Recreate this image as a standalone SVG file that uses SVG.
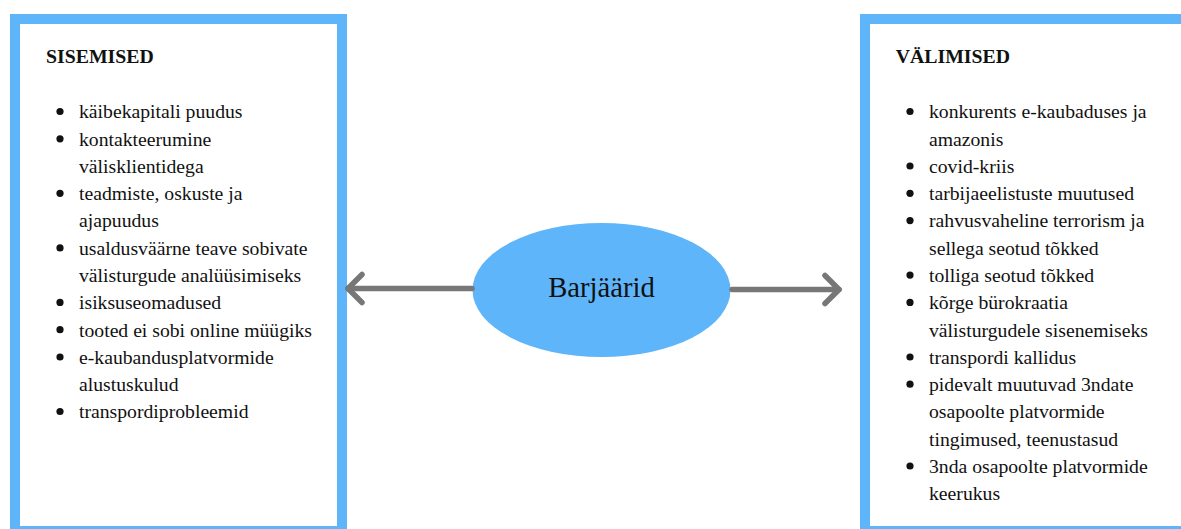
<svg xmlns="http://www.w3.org/2000/svg" width="1181" height="529" viewBox="0 0 1181 529">
<style>
.box{fill:#ffffff;stroke:#5fb5f9;stroke-width:10}
.t{font-family:"Liberation Serif","Times New Roman",serif;font-size:19.7px;fill:#111}
.h{font-family:"Liberation Serif","Times New Roman",serif;font-size:19.8px;font-weight:bold;fill:#111}
.b{fill:#111}
.conn{stroke:#777777;stroke-width:5.5;stroke-linecap:round;fill:none}
</style>
<defs>
<marker id="chev" markerUnits="userSpaceOnUse" markerWidth="40" markerHeight="40" viewBox="-20 -20 40 40" refX="0" refY="0" orient="auto" overflow="visible">
<path d="M -14 -14 L 0 0 L -14 14" fill="none" stroke="#777777" stroke-width="5.5" stroke-linecap="round" stroke-linejoin="round"/>
</marker>
</defs>
<rect width="1181" height="529" fill="#ffffff"/>
<g id="sisemised">
<rect class="box" x="15" y="19" width="327" height="512"/>
<text class="h" x="46" y="62.7">SISEMISED</text>
<g class="b">
<circle cx="60" cy="111.5" r="3.6"/>
<circle cx="60" cy="138.8" r="3.6"/>
<circle cx="60" cy="193.3" r="3.6"/>
<circle cx="60" cy="247.9" r="3.6"/>
<circle cx="60" cy="302.4" r="3.6"/>
<circle cx="60" cy="329.7" r="3.6"/>
<circle cx="60" cy="357.0" r="3.6"/>
<circle cx="60" cy="411.5" r="3.6"/>
</g>
<text class="t" x="79" y="118.3">käibekapitali puudus</text>
<text class="t" x="79" y="145.6">kontakteerumine</text>
<text class="t" x="79" y="172.8">välisklientidega</text>
<text class="t" x="79" y="200.1">teadmiste, oskuste ja</text>
<text class="t" x="79" y="227.4">ajapuudus</text>
<text class="t" x="79" y="254.7">usaldusväärne teave sobivate</text>
<text class="t" x="79" y="281.9">välisturgude analüüsimiseks</text>
<text class="t" x="79" y="309.2">isiksuseomadused</text>
<text class="t" x="79" y="336.5">tooted ei sobi online müügiks</text>
<text class="t" x="79" y="363.8">e-kaubandusplatvormide</text>
<text class="t" x="79" y="391.0">alustuskulud</text>
<text class="t" x="79" y="418.3">transpordiprobleemid</text>
</g>
<g id="valimised">
<rect class="box" x="865" y="19" width="330" height="512"/>
<text class="h" x="895.7" y="62.7">VÄLIMISED</text>
<g class="b">
<circle cx="910" cy="111.5" r="3.6"/>
<circle cx="910" cy="166.0" r="3.6"/>
<circle cx="910" cy="193.3" r="3.6"/>
<circle cx="910" cy="220.6" r="3.6"/>
<circle cx="910" cy="275.1" r="3.6"/>
<circle cx="910" cy="302.4" r="3.6"/>
<circle cx="910" cy="357.0" r="3.6"/>
<circle cx="910" cy="384.2" r="3.6"/>
<circle cx="910" cy="466.0" r="3.6"/>
</g>
<text class="t" x="929" y="118.3">konkurents e-kaubaduses ja</text>
<text class="t" x="929" y="145.6">amazonis</text>
<text class="t" x="929" y="172.8">covid-kriis</text>
<text class="t" x="929" y="200.1">tarbijaeelistuste muutused</text>
<text class="t" x="929" y="227.4">rahvusvaheline terrorism ja</text>
<text class="t" x="929" y="254.7">sellega seotud tõkked</text>
<text class="t" x="929" y="281.9">tolliga seotud tõkked</text>
<text class="t" x="929" y="309.2">kõrge bürokraatia</text>
<text class="t" x="929" y="336.5">välisturgudele sisenemiseks</text>
<text class="t" x="929" y="363.8">transpordi kallidus</text>
<text class="t" x="929" y="391.0">pidevalt muutuvad 3ndate</text>
<text class="t" x="929" y="418.3">osapoolte platvormide</text>
<text class="t" x="929" y="445.6">tingimused, teenustasud</text>
<text class="t" x="929" y="472.9">3nda osapoolte platvormide</text>
<text class="t" x="929" y="500.1">keerukus</text>
</g>
<g id="barjaarid">
<ellipse cx="601.5" cy="290" rx="129" ry="67" fill="#5fb5f9"/>
<text x="601.5" y="297" text-anchor="middle" font-family="Liberation Serif, Times New Roman, serif" font-size="28.7" fill="#111">Barjäärid</text>
</g>
<g id="connectors">
<line class="conn" x1="472" y1="288.5" x2="348" y2="288.5" marker-end="url(#chev)"/>
<line class="conn" x1="732" y1="289.5" x2="839" y2="289.5" marker-end="url(#chev)"/>
</g>
</svg>
